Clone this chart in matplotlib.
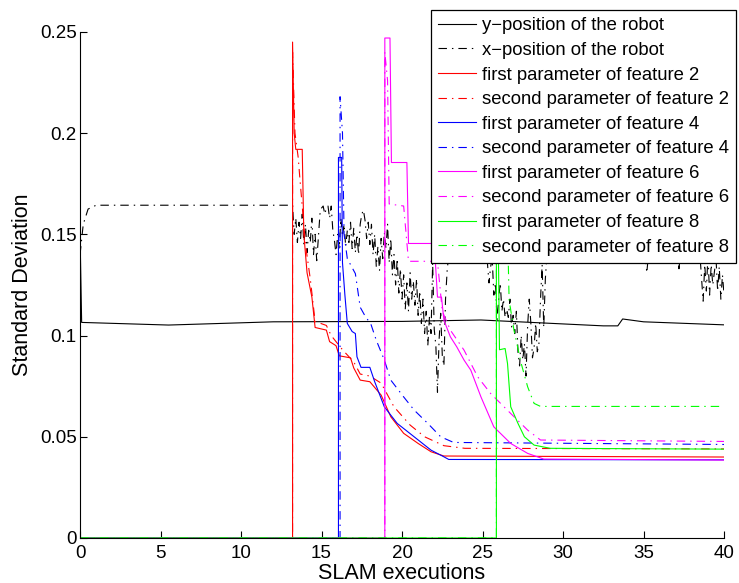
import numpy as np
import matplotlib
matplotlib.use("Agg")
import matplotlib.pyplot as plt

plt.rcParams['font.family'] = ['Liberation Sans', 'DejaVu Sans']

# robot position (solid: y, dash-dot: x)
ypos_x = [0, 0.1, 5.5, 12, 20, 24.9, 27, 32.5, 33.4, 33.7, 35, 40]
ypos_s = [0.15, 0.1065, 0.1052, 0.1068, 0.107, 0.1077, 0.1069, 0.1048, 0.1048, 0.1082, 0.1068, 0.1053]

xpos_x = [0, 0.2, 0.5, 1.0, 13.2,
          13.3, 13.4, 13.5, 13.6, 13.7, 13.8, 13.9, 14.0, 14.1, 14.2, 14.3, 14.4, 14.5, 14.6,
          14.7, 14.8, 14.9, 15.0, 15.1, 15.2, 15.3, 15.4, 15.5, 15.6, 15.7, 15.8, 15.9, 16.0,
          16.1, 16.2, 16.3, 16.4, 16.5, 16.6, 16.7, 16.8, 16.9, 17.0, 17.1, 17.2, 17.3, 17.4,
          17.5, 17.6, 17.7, 17.8, 17.9, 18.0, 18.1, 18.2, 18.3, 18.4, 18.5, 18.6, 18.7, 18.8,
          18.9, 19.0, 19.1, 19.2, 19.3, 19.4, 19.5, 19.6, 19.7, 19.8, 19.9, 20.0, 20.1, 20.2,
          20.3, 20.4, 20.5, 20.6, 20.7, 20.8, 20.9, 21.0, 21.1, 21.2, 21.3, 21.4, 21.5, 21.6,
          21.7, 21.8, 21.9, 22.0, 22.1, 22.2, 22.3, 22.4, 22.5, 22.6, 22.7, 22.8, 22.9, 23.0,
          23.3, 23.6, 23.9, 24.2, 24.5, 24.8, 25.1,
          25.3, 25.4, 25.5, 25.6, 25.7, 25.8, 25.9, 26.0, 26.1, 26.2, 26.3, 26.4, 26.5, 26.6,
          26.7, 26.8, 26.9, 27.0, 27.1, 27.2, 27.3, 27.4, 27.5, 27.6, 27.7, 27.8, 27.9, 28.0,
          28.1, 28.2, 28.3, 28.4, 28.5, 28.6, 28.7, 28.8, 28.9, 29.0,
          29.5, 30, 31, 32, 33, 34, 35, 35.2, 35.4, 36, 37, 37.2, 37.4, 38.0, 38.3,
          38.5, 38.7, 38.8, 38.9, 39.0, 39.1, 39.2, 39.3, 39.5, 39.6, 39.7, 39.8, 39.9, 40]
xpos_s = [0.14, 0.155, 0.1625, 0.1644, 0.1644,
          0.150, 0.158, 0.146, 0.156, 0.148, 0.160, 0.145, 0.155, 0.141, 0.152, 0.146, 0.158,
          0.140, 0.150, 0.137, 0.148, 0.160, 0.163, 0.164, 0.160, 0.163, 0.164, 0.158, 0.164,
          0.152, 0.147, 0.140, 0.150, 0.143, 0.158, 0.149, 0.155, 0.144, 0.152, 0.146, 0.156,
          0.143, 0.153, 0.141, 0.150, 0.140, 0.155, 0.160, 0.162, 0.157, 0.148, 0.156, 0.145,
          0.155, 0.140, 0.150, 0.134, 0.144, 0.132, 0.148, 0.138, 0.151, 0.143, 0.155, 0.136,
          0.148, 0.130, 0.140, 0.125, 0.138, 0.121, 0.133, 0.118, 0.130, 0.113, 0.126, 0.112,
          0.131, 0.118, 0.127, 0.115, 0.128, 0.110, 0.122, 0.106, 0.118, 0.101, 0.112, 0.095,
          0.109, 0.101, 0.136, 0.103, 0.095, 0.072, 0.098, 0.111, 0.090, 0.085, 0.118, 0.132,
          0.140, 0.148,
          0.152, 0.141, 0.150, 0.140, 0.152, 0.142, 0.148,
          0.136, 0.126, 0.134, 0.138, 0.120, 0.126, 0.108, 0.118, 0.126, 0.112, 0.118, 0.109,
          0.113, 0.109, 0.118, 0.104, 0.110, 0.101, 0.112, 0.092, 0.085, 0.100, 0.088, 0.096,
          0.080, 0.105, 0.118, 0.106, 0.089, 0.094, 0.106, 0.092, 0.096, 0.118, 0.135, 0.104,
          0.128, 0.140,
          0.155, 0.148, 0.156, 0.150, 0.155, 0.148, 0.150, 0.131, 0.148, 0.156, 0.145, 0.133,
          0.150, 0.135, 0.148,
          0.140, 0.117, 0.135, 0.122, 0.140, 0.120, 0.135, 0.125, 0.138, 0.122, 0.134, 0.118,
          0.130, 0.120]

# feature 2
f2a_x = [0, 13.2, 13.2, 13.3, 13.4, 13.8, 13.9, 14.1, 14.4, 14.6, 15.3, 15.5, 15.9, 16.1, 16.8,
         17.0, 17.4, 18.0, 18.7, 19.3, 20.1, 21.0, 21.8, 22.6, 40]
f2a_s = [0, 0, 0.245, 0.200, 0.192, 0.192, 0.150, 0.131, 0.119, 0.104, 0.1027, 0.097, 0.095,
         0.090, 0.089, 0.084, 0.078, 0.0772, 0.0706, 0.0599, 0.0517, 0.0467, 0.0426, 0.0405, 0.0400]
f2b_x = [0, 13.2, 13.2, 13.35, 13.55, 13.65, 14.0, 14.3, 14.6, 15.3, 15.6, 16.0, 16.3, 17.0,
         17.4, 18.0, 18.7, 19.5, 20.5, 21.4, 22.6, 23.9, 40]
f2b_s = [0, 0, 0.240, 0.200, 0.188, 0.178, 0.145, 0.128, 0.107, 0.105, 0.100, 0.096, 0.093,
         0.087, 0.081, 0.080, 0.0765, 0.0648, 0.0558, 0.050, 0.0456, 0.0443, 0.0440]

# feature 4
f4a_x = [0, 16.05, 16.05, 16.25, 16.3, 16.45, 16.6, 16.9, 17.1, 17.2, 17.45, 18.0, 18.3, 18.9,
         19.7, 20.75, 21.8, 22.6, 22.9, 40]
f4a_s = [0, 0, 0.188, 0.188, 0.136, 0.120, 0.106, 0.102, 0.101, 0.0895, 0.0843, 0.0843, 0.0772,
         0.0648, 0.0566, 0.050, 0.0434, 0.0401, 0.0388, 0.0386]
f4b_x = [0, 16.15, 16.15, 16.3, 16.4, 16.6, 17.1, 17.4, 17.75, 18.05, 18.4, 18.9, 19.3, 20.1,
         20.75, 21.6, 22.4, 23.2, 40]
f4b_s = [0, 0, 0.218, 0.200, 0.150, 0.138, 0.1306, 0.114, 0.109, 0.106, 0.0977, 0.0879, 0.078,
         0.0697, 0.0632, 0.0566, 0.050, 0.0472, 0.0462]

# feature 6
f6a_x = [0, 18.93, 18.93, 19.25, 19.34, 20.3, 20.4, 22.0, 22.2, 22.45, 22.6, 23.0, 23.4, 23.85,
         24.27, 24.9, 25.7, 26.75, 27.8, 28.8, 40]
f6a_s = [0, 0, 0.247, 0.247, 0.1855, 0.1855, 0.1455, 0.1455, 0.119, 0.119, 0.1076, 0.0994,
         0.0944, 0.0879, 0.0829, 0.0697, 0.0549, 0.0467, 0.0418, 0.039, 0.0385]
f6b_x = [0, 18.93, 18.93, 19.1, 19.2, 20.1, 20.4, 22.2, 22.5, 23.0, 23.85, 24.7, 25.5, 26.75,
         27.8, 28.6, 40]
f6b_s = [0, 0, 0.240, 0.226, 0.165, 0.164, 0.1367, 0.1367, 0.112, 0.1027, 0.0928, 0.0796,
         0.0714, 0.0615, 0.0533, 0.0484, 0.0477]

# feature 8
f8a_x = [0, 25.86, 25.86, 26.0, 26.05, 26.4, 26.55, 26.75, 27.2, 27.6, 28.2, 29.2, 40]
f8a_s = [0, 0, 0.21, 0.13, 0.093, 0.0936, 0.0862, 0.0648, 0.0566, 0.050, 0.0459, 0.0443, 0.0439]
f8b_x = [0, 25.86, 25.86, 26.5, 26.65, 26.95, 27.4, 27.8, 28.2, 28.6, 40]
f8b_s = [0, 0, 0.20, 0.17, 0.1175, 0.1027, 0.0862, 0.0747, 0.0665, 0.065, 0.065]

labels = ['y\u2212position of the robot', 'x\u2212position of the robot',
          'first parameter of feature 2', 'second parameter of feature 2',
          'first parameter of feature 4', 'second parameter of feature 4',
          'first parameter of feature 6', 'second parameter of feature 6',
          'first parameter of feature 8', 'second parameter of feature 8']

yticks = [0, 0.05, 0.1, 0.15, 0.2, 0.25]
ytick_labels = ['0', '0.05', '0.1', '0.15', '0.2', '0.25']
xticks = [0, 5, 10, 15, 20, 25, 30, 35, 40]

fig = plt.figure(figsize=(7.39, 5.83), dpi=100)
ax = fig.add_axes([0.1083, 0.0772, 0.8715, 0.868])

lw = 0.8
dashdot = (0, (7.6, 4.5, 1.3, 4.5))
series = [
    (ypos_x, ypos_s, 'k', '-'),
    (xpos_x, xpos_s, 'k', dashdot),
    (f2a_x, f2a_s, '#ff0000', '-'),
    (f2b_x, f2b_s, '#ff0000', dashdot),
    (f4a_x, f4a_s, '#0000ff', '-'),
    (f4b_x, f4b_s, '#0000ff', dashdot),
    (f6a_x, f6a_s, '#ff00ff', '-'),
    (f6b_x, f6b_s, '#ff00ff', dashdot),
    (f8a_x, f8a_s, '#00ff00', '-'),
    (f8b_x, f8b_s, '#00ff00', dashdot),
]
handles = []
for (xs, ys, c, ls), lab in zip(series, labels):
    h, = ax.plot(xs, ys, color=c, linestyle=ls, linewidth=lw, label=lab)
    handles.append(h)

ax.set_xlim(0, 40)
ax.set_ylim(0, 0.25)
ax.set_xticks(xticks)
ax.set_yticks(yticks)
ax.set_yticklabels(ytick_labels)
ax.spines['top'].set_visible(False)
ax.spines['right'].set_visible(False)
ax.tick_params(direction='in', length=5, width=0.8, labelsize=13.5)
ax.tick_params(axis='x', pad=5)
ax.tick_params(axis='y', pad=2.5)
ax.set_xlabel('SLAM executions', fontsize=15.5, labelpad=1)
ax.set_ylabel('Standard Deviation', fontsize=15.5, labelpad=5)

leg = ax.legend(handles=handles, loc='upper left', bbox_to_anchor=(431 / 739, 1 - 10 / 583),
                bbox_transform=fig.transFigure, borderaxespad=0, fontsize=13.3,
                handlelength=2.05, handletextpad=0.3, borderpad=0.4, labelspacing=0.41,
                fancybox=False, framealpha=1)
leg.get_frame().set_edgecolor('black')
leg.get_frame().set_linewidth(0.9)

fig.savefig('out.png', dpi=100)
